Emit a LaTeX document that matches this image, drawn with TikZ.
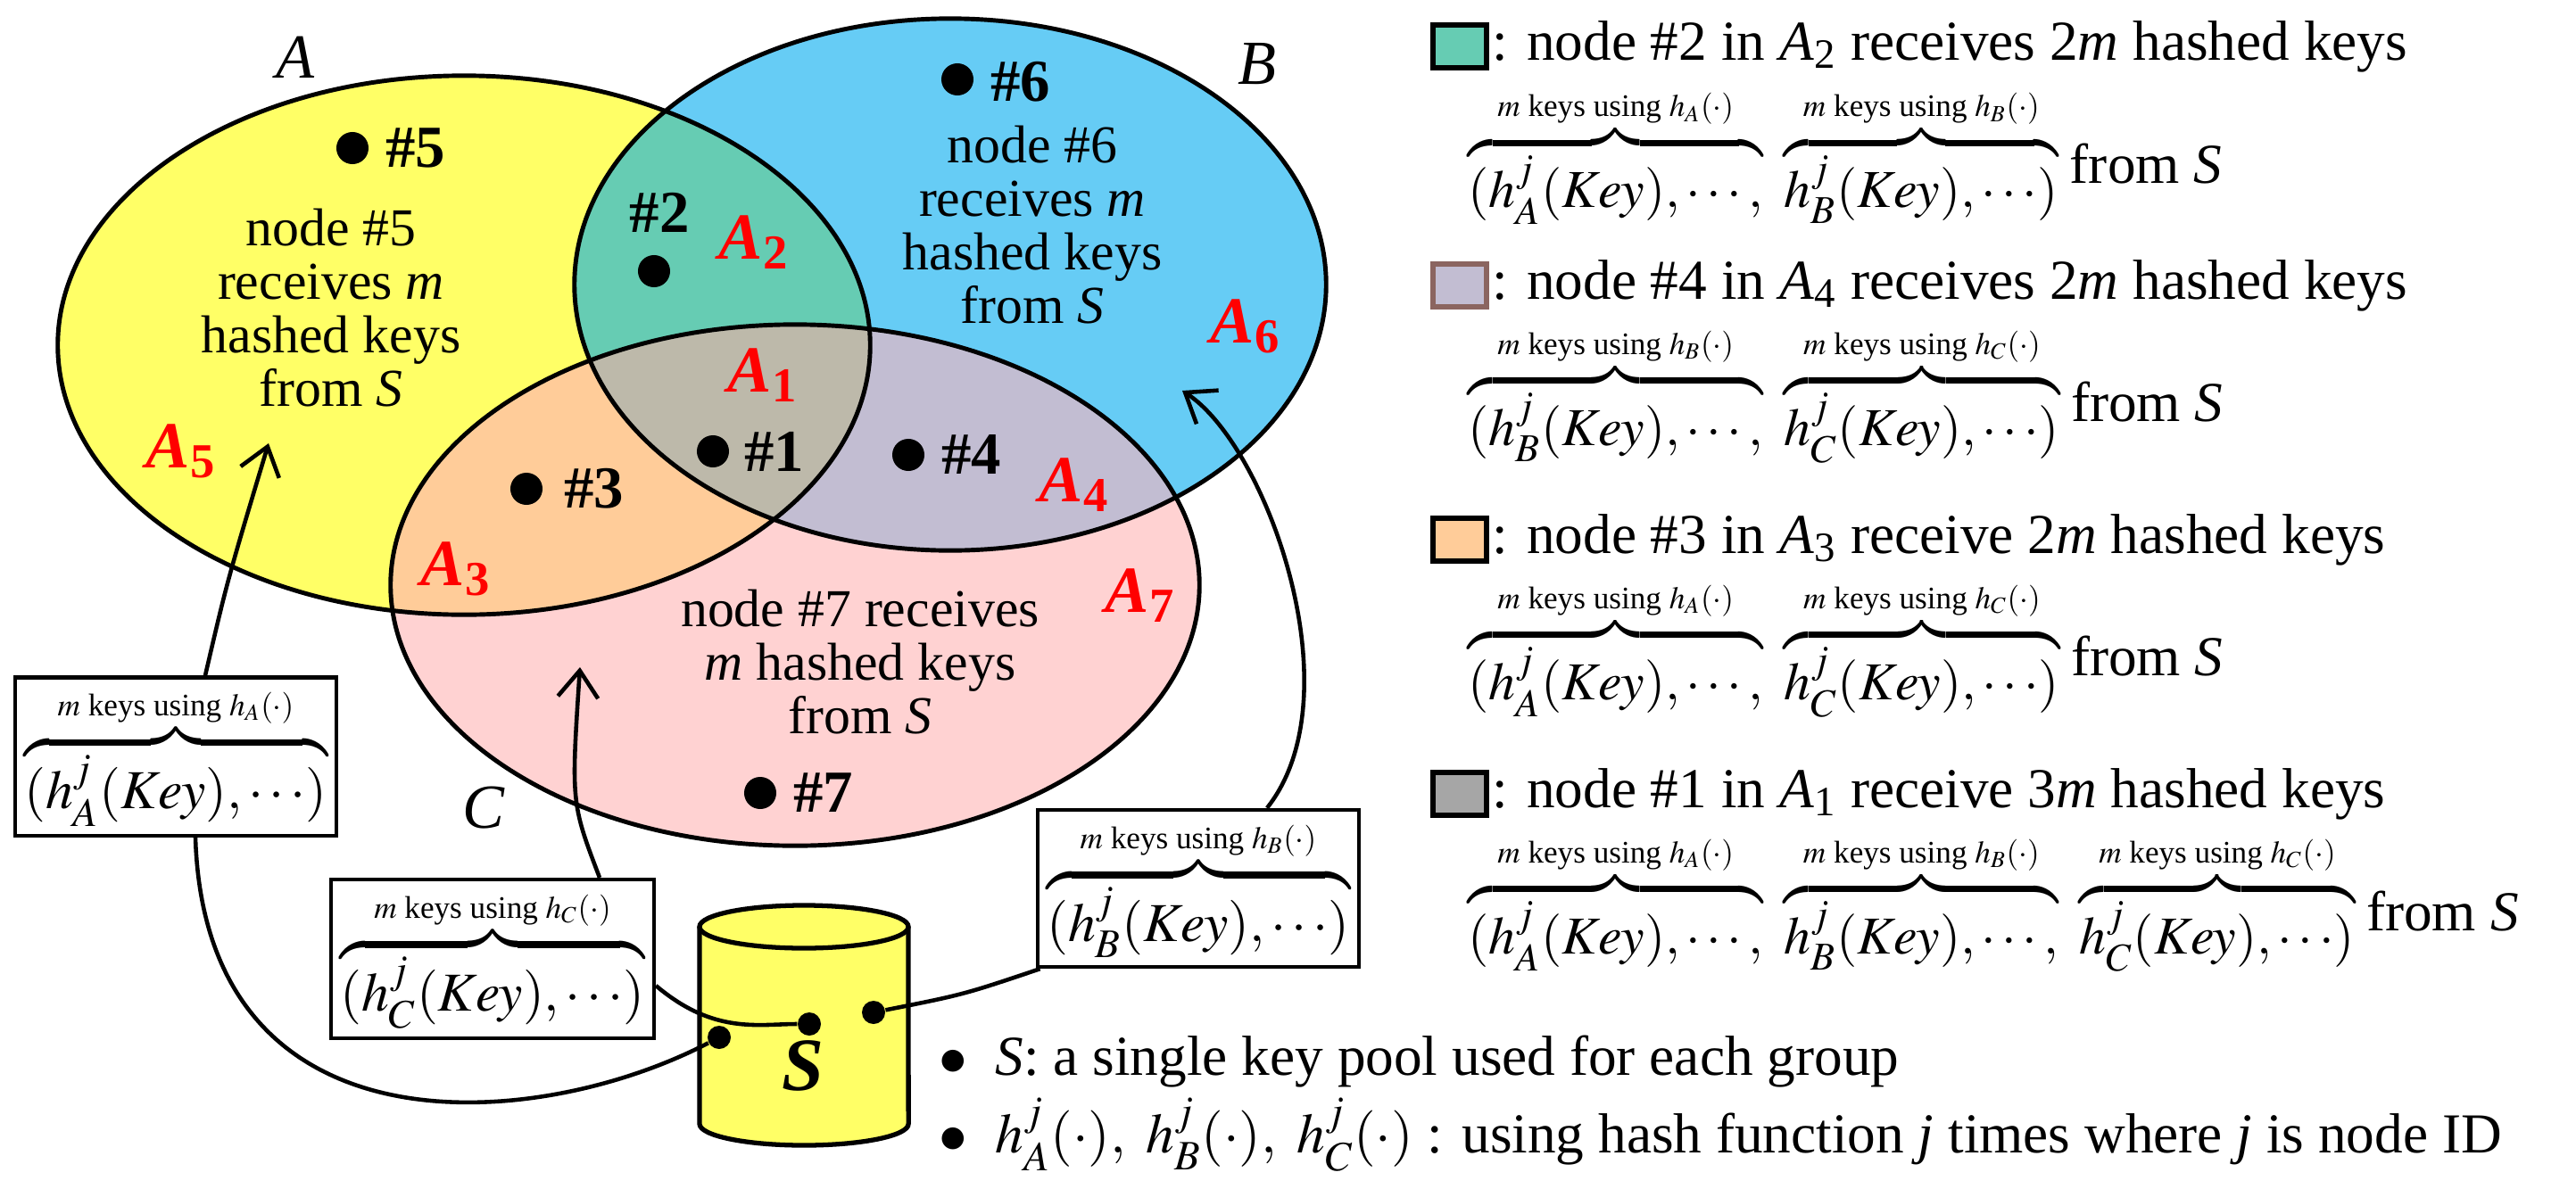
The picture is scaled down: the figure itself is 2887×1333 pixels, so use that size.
\documentclass[tikz,border=0pt]{standalone}
\usepackage{mathptmx}
\usepackage{fontspec}
\setmainfont{Liberation Serif}
\usetikzlibrary{arrows.meta}
\definecolor{cA}{HTML}{FFFF66}
\definecolor{cB}{HTML}{66CCF5}
\definecolor{cC}{HTML}{FFD2D2}
\definecolor{cAB}{HTML}{66CCB3}
\definecolor{cAC}{HTML}{FFCC99}
\definecolor{cBC}{HTML}{C2BDD2}
\definecolor{cABC}{HTML}{BDB9AA}
\definecolor{cG}{HTML}{A6A6A6}
\definecolor{cBr}{HTML}{8B6560}
\newcommand{\ellA}{(520,387) ellipse [x radius=4.55cm, y radius=3.02cm]}
\newcommand{\ellB}{(1065,319) ellipse [x radius=4.21cm, y radius=2.98cm]}
\newcommand{\ellC}{(891,656) ellipse [x radius=4.53cm, y radius=2.92cm]}
\newcommand{\kl}[1]{\mbox{\fontsize{10}{12}\selectfont $m$ keys using $h_{#1}(\cdot)$}}
\newcommand{\gp}{\kern 5pt}
\tikzset{
  vt/.style={font=\fontsize{17}{17}\selectfont, align=center},
  hl/.style={font=\fontsize{19}{20}\selectfont\bfseries, anchor=west},
  al/.style={font=\fontsize{21}{22}\selectfont\bfseries, text=red},
  dot/.style={circle, fill=black, inner sep=0pt, minimum size=0.36cm},
  sdot/.style={circle, fill=black, inner sep=0pt, minimum size=0.26cm},
  lt/.style={font=\fontsize{18}{20}\selectfont, anchor=west},
  ex/.style={font=\fontsize{17}{20}\selectfont, anchor=west, inner sep=0pt},
  bx/.style={draw, line width=1.2pt, inner sep=3pt, font=\fontsize{17.5}{20}\selectfont},
  arr/.style={line width=1.3pt, -{Straight Barb[length=0.3cm, width=0.45cm, line width=1.3pt]}},
  ln/.style={line width=1.3pt},
  sq/.style={draw, line width=1.5pt, minimum width=0.6cm, minimum height=0.48cm, inner sep=0pt},
}
\begin{document}
\begin{tikzpicture}[x=0.01cm,y=-0.01cm]
\useasboundingbox (0,0) rectangle (2887,1333);
% fills
\fill[cA] \ellA; \fill[cB] \ellB; \fill[cC] \ellC;
\begin{scope}\clip \ellA; \fill[cAB] \ellB; \fill[cAC] \ellC; \end{scope}
\begin{scope}\clip \ellB; \fill[cBC] \ellC; \end{scope}
\begin{scope}\clip \ellA; \clip \ellB; \fill[cABC] \ellC; \end{scope}
\draw[line width=1.4pt] \ellA; \draw[line width=1.4pt] \ellB; \draw[line width=1.4pt] \ellC;
% set labels
\node[font=\fontsize{20}{20}\selectfont\itshape] (la) at (331,64) {A};
\node[font=\fontsize{20}{20}\selectfont\itshape] (lb) at (1409,72) {B};
\node[font=\fontsize{20}{20}\selectfont\itshape] (lc) at (542,906) {C};
% nodes
\node[dot] (d5) at (395,166) {}; \node[hl] (t5) at (420,166) {\#5};
\node[vt] (n5) at (371,345) {node \#5\\receives \textit{m}\\hashed keys\\from \textit{S}};
\node[hl,anchor=center] (t2) at (739,238) {\#2}; \node[dot] (d2) at (733,304) {};
\node[dot] (d6) at (1073,89) {}; \node[hl] (t6) at (1098,92) {\#6};
\node[vt] (n6) at (1157,252) {node \#6\\receives \textit{m}\\hashed keys\\from \textit{S}};
\node[dot] (d1) at (799,506) {}; \node[hl] (t1) at (822,506) {\#1};
\node[dot] (d4) at (1018,510) {}; \node[hl] (t4) at (1043,510) {\#4};
\node[dot] (d3) at (590,548) {}; \node[hl] (t3) at (620,548) {\#3};
\node[dot] (d7) at (852,889) {}; \node[hl] (t7) at (877,889) {\#7};
\node[vt] (n7) at (964,742) {node \#7 receives\\\textit{m} hashed keys\\from \textit{S}};
% region labels
\node[al] (a1) at (855,421) {\textit{A}\textsubscript{1}};
\node[al] (a2) at (845,272) {\textit{A}\textsubscript{2}};
\node[al] (a3) at (511,638) {\textit{A}\textsubscript{3}};
\node[al] (a4) at (1204,544) {\textit{A}\textsubscript{4}};
\node[al] (a5) at (203,506) {\textit{A}\textsubscript{5}};
\node[al] (a6) at (1396,366) {\textit{A}\textsubscript{6}};
\node[al] (a7) at (1278,668) {\textit{A}\textsubscript{7}};
% boxes
\node[bx] (bA) at (197,848) {$\overbrace{(h_A^j(Key),\cdots)}^{\kl{A}}$};
\node[bx] (bC) at (552,1075) {$\overbrace{(h_C^j(Key),\cdots)}^{\kl{C}}$};
\node[bx] (bB) at (1343,996) {$\overbrace{(h_B^j(Key),\cdots)}^{\kl{B}}$};
% cylinder
\fill[cA] (784,1039) -- (784,1260) arc[start angle=180,end angle=360,x radius=1.17cm,y radius=0.24cm] -- (1018,1039) -- cycle;
\fill[cA] (901,1039) ellipse [x radius=1.17cm, y radius=0.24cm];
\draw[line width=1.5pt] (784,1039) -- (784,1260) arc[start angle=180,end angle=360,x radius=1.17cm,y radius=0.24cm] -- (1018,1039);
\draw[line width=1.5pt] (901,1039) ellipse [x radius=1.17cm, y radius=0.24cm];
\node[font=\fontsize{24}{24}\selectfont\bfseries\itshape] (s) at (900,1195) {S};
\node[sdot] (s1) at (806,1163) {};
\node[sdot] (s2) at (907,1148) {};
\node[sdot] (s3) at (979,1135) {};
\coordinate (tA) at (301,497);
\coordinate (tC) at (650,748);
\coordinate (tB) at (1325,438);
% connectors
\draw[arr] (bA.north) ++(33,0) .. controls (255,650) .. (tA);
\draw[arr] (bC.north) ++(120,0) .. controls (640,900) .. (tC);
\draw[arr] (bB.north) ++(77,0) .. controls (1520,780) and (1420,500) .. (tB);
\draw[ln] (bA.south) ++(22,0) .. controls (230,1300) and (600,1270) .. (s1);
\draw[ln] (bC.east) ++(0,30) .. controls (800,1160) and (850,1148) .. (s2);
\draw[ln] (bB.south west) ++(5,0) .. controls (1080,1115) .. (s3);
% legend
\node[sq, fill=cAB] (q1) at (1636,52) {};
\node[lt] (l1) at (1660,52) {: node \#2 in \textit{A}\textsubscript{2} receives 2\textit{m} hashed keys};
\node[ex] (e1) at (1645,175) {$\overbrace{(h_A^j(Key),\cdots,}^{\kl{A}}\gp\overbrace{h_B^j(Key),\cdots)}^{\kl{B}}$};
\node[lt] (f1) at (e1.east |- 0,184) {from \textit{S}};
\node[sq, fill=cBC, draw=cBr] (q2) at (1636,320) {};
\node[lt] (l2) at (1660,320) {: node \#4 in \textit{A}\textsubscript{4} receives 2\textit{m} hashed keys};
\node[ex] (e2) at (1645,442) {$\overbrace{(h_B^j(Key),\cdots,}^{\kl{B}}\gp\overbrace{h_C^j(Key),\cdots)}^{\kl{C}}$};
\node[lt] (f2) at (e2.east |- 0,451) {from \textit{S}};
\node[sq, fill=cAC] (q3) at (1636,605) {};
\node[lt] (l3) at (1660,605) {: node \#3 in \textit{A}\textsubscript{3} receive 2\textit{m} hashed keys};
\node[ex] (e3) at (1645,727) {$\overbrace{(h_A^j(Key),\cdots,}^{\kl{A}}\gp\overbrace{h_C^j(Key),\cdots)}^{\kl{C}}$};
\node[lt] (f3) at (e3.east |- 0,736) {from \textit{S}};
\node[sq, fill=cG] (q4) at (1636,890) {};
\node[lt] (l4) at (1660,890) {: node \#1 in \textit{A}\textsubscript{1} receive 3\textit{m} hashed keys};
\node[ex] (e4) at (1645,1012) {$\overbrace{(h_A^j(Key),\cdots,}^{\kl{A}}\gp\overbrace{h_B^j(Key),\cdots,}^{\kl{B}}\gp\overbrace{h_C^j(Key),\cdots)}^{\kl{C}}$};
\node[lt] (f4) at (e4.east |- 0,1022) {from \textit{S}};
% bullets
\node[lt] (b1) at (1040,1190) {$\bullet$\ \ \textit{S}: a single key pool used for each group};
\node[lt] (b2) at (1040,1272) {$\bullet$\ \ $h_A^j(\cdot),\ h_B^j(\cdot),\ h_C^j(\cdot)$ : using hash function \textit{j} times where \textit{j} is node ID};
\end{tikzpicture}
\end{document}
